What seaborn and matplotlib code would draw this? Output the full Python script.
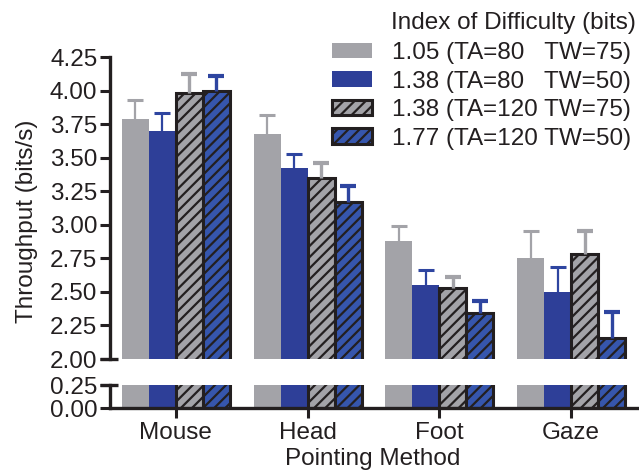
import matplotlib
matplotlib.use("Agg")
import matplotlib.pyplot as plt
import seaborn as sns
import pandas as pd
import numpy as np

# ---- data ----
methods = ["Mouse", "Head", "Foot", "Gaze"]
conditions = ["1.05 (TA=80   TW=75)", "1.38 (TA=80   TW=50)",
              "1.38 (TA=120 TW=75)", "1.77 (TA=120 TW=50)"]
tp_c1 = [3.79, 3.68, 2.88, 2.75]
tp_c2 = [3.70, 3.42, 2.55, 2.50]
tp_c3 = [3.98, 3.35, 2.53, 2.78]
tp_c4 = [4.00, 3.17, 2.345, 2.16]
err_c1 = [0.14, 0.14, 0.11, 0.20]
err_c2 = [0.13, 0.105, 0.11, 0.185]
err_c3 = [0.14, 0.11, 0.08, 0.17]
err_c4 = [0.11, 0.12, 0.085, 0.19]
top_ticks = [2.00, 2.25, 2.50, 2.75, 3.00, 3.25, 3.50, 3.75, 4.00, 4.25]
bottom_ticks = [0.00, 0.25]

values = [tp_c1, tp_c2, tp_c3, tp_c4]
errors = [err_c1, err_c2, err_c3, err_c4]

df = pd.DataFrame({
    "method": [m for _ in conditions for m in methods],
    "cond": [c for c in conditions for _ in methods],
    "tp": [v for vals in values for v in vals],
})

# ---- style ----
sns.set_style("ticks")
plt.rcParams["font.family"] = ["Liberation Sans", "DejaVu Sans"]
plt.rcParams["hatch.linewidth"] = 1.6
FS = 17.5
DARK = "#231f20"

fills = ["#a3a3a8", "#2e3f98", "#a3a3a8", "#3656ad"]
err_colors = ["#a3a3a8", "#2e45a0", "#a3a3a8", "#2e45a0"]
hatched = [False, False, True, True]

W, H = 639, 473
fig = plt.figure(figsize=(W / 100, H / 100), dpi=100)

x0, x1 = 110, 637
ax_top = fig.add_axes([x0 / W, (H - 359) / H, (x1 - x0) / W, (359 - 57) / H])
ax_bot = fig.add_axes([x0 / W, (H - 408) / H, (x1 - x0) / W, (408 - 385) / H])

bar_containers = {}
for ax in (ax_top, ax_bot):
    sns.barplot(data=df, x="method", y="tp", hue="cond", order=methods,
                hue_order=conditions, palette=fills, saturation=1,
                width=0.82, errorbar=None, legend=False, ax=ax)
    conts = list(ax.containers)
    bar_containers[ax] = conts
    for i, cont in enumerate(conts):
        for p in cont.patches:
            if hatched[i]:
                p.set_hatch("///")
                p.set_edgecolor(DARK)
                p.set_linewidth(2.2)
            else:
                p.set_linewidth(0)
    ax.set_xlim(-0.5, 3.5)
    ax.set_xlabel("")
    ax.set_ylabel("")

# error bars (upper only) on top axes
for i, cont in enumerate(bar_containers[ax_top]):
    xs = [p.get_x() + p.get_width() / 2 for p in cont.patches]
    lw = 2.4 if hatched[i] else 1.6
    eb = ax_top.errorbar(xs, values[i],
                         yerr=[np.zeros(len(errors[i])), errors[i]],
                         fmt="none", ecolor=err_colors[i], elinewidth=lw,
                         capsize=5.8, capthick=lw + 0.6, zorder=1)
    caps = eb.lines[1]
    if len(caps) == 2:
        caps[0].set_visible(False)

# top axis
ax_top.set_ylim(2.0, 4.25)
ax_top.set_yticks(top_ticks)
ax_top.set_yticklabels([f"{t:.2f}" for t in top_ticks])
ax_top.set_xticks([])
for s in ["top", "right", "bottom"]:
    ax_top.spines[s].set_visible(False)
ax_top.spines["left"].set_linewidth(2.4)
ax_top.spines["left"].set_color(DARK)
ax_top.tick_params(axis="y", direction="out", length=7, width=2.2,
                   color=DARK, labelsize=FS, labelcolor=DARK, pad=2)

# bottom axis
ax_bot.set_ylim(0.0, 0.25)
ax_bot.set_yticks(bottom_ticks)
ax_bot.set_yticklabels([f"{t:.2f}" for t in bottom_ticks])
for s in ["top", "right"]:
    ax_bot.spines[s].set_visible(False)
for s in ["left", "bottom"]:
    ax_bot.spines[s].set_linewidth(2.4)
    ax_bot.spines[s].set_color(DARK)
ax_bot.tick_params(axis="y", direction="out", length=7, width=2.2,
                   color=DARK, labelsize=FS, labelcolor=DARK, pad=2)
ax_bot.tick_params(axis="x", direction="out", length=7, width=2.2,
                   color=DARK, labelsize=FS, labelcolor=DARK, pad=3)

# break markers
for ax, yy in ((ax_top, 0.0), (ax_bot, 1.0)):
    ax.plot([-0.019, 0.015], [yy, yy], transform=ax.transAxes, color=DARK,
            lw=2.4, clip_on=False, solid_capstyle="butt")

# labels
fig.text(27 / W, 1 - 221 / H, "Throughput (bits/s)", rotation=90,
         ha="center", va="center", fontsize=FS, color=DARK)
fig.text(373 / W, 1 - 459 / H, "Pointing Method", ha="center",
         va="center", fontsize=FS, color=DARK)

# legend
handles = [cont.patches[0] for cont in bar_containers[ax_top]]
fig.text(391 / W, 1 - 23 / H, "Index of Difficulty (bits)", ha="left",
         va="center", fontsize=FS, color=DARK)
leg = fig.legend(handles, conditions, loc="upper left",
                 bbox_to_anchor=(332 / W, 1 - 42 / H), frameon=False,
                 fontsize=FS, handlelength=1.65, handleheight=0.62,
                 handletextpad=0.8, labelspacing=0.27, borderpad=0,
                 borderaxespad=0)
for t in leg.get_texts():
    t.set_color(DARK)

fig.savefig("out.png", dpi=100)
